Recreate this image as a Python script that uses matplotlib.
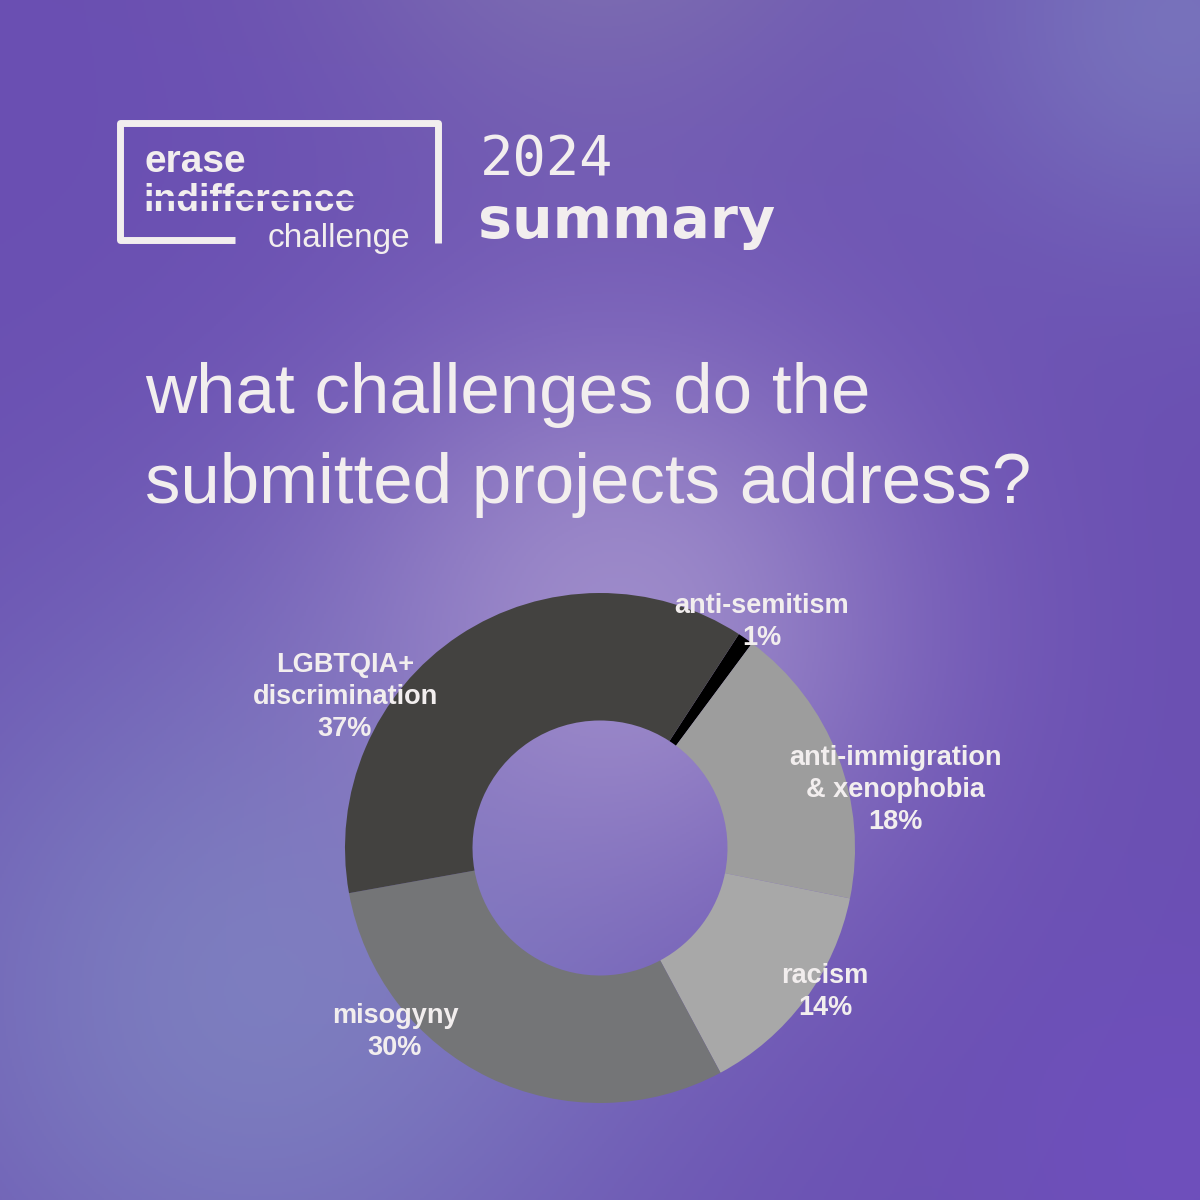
import numpy as np
import matplotlib
matplotlib.use("Agg")
import matplotlib.pyplot as plt

categories = ["anti-semitism", "anti-immigration\n& xenophobia", "racism", "misogyny", "LGBTQIA+\ndiscrimination"]
values = [1, 18, 14, 30, 37]
colors = ["#000000", "#9d9d9d", "#a8a8a8", "#747577", "#434240"]
label_pos = [(762, 622), (895, 790), (825, 992), (395, 1032), (345, 697)]

fig = plt.figure(figsize=(12, 12), dpi=100)
bg = fig.add_axes([0, 0, 1, 1])
bg.set_xlim(0, 1200); bg.set_ylim(1200, 0); bg.axis("off")

yy, xx = np.mgrid[0:1200:2, 0:1200:2]
base = np.array([0x6a, 0x4f, 0xb2]) / 255
light = np.array([0xa2, 0x90, 0xcc]) / 255
blue = np.array([0x80, 0x88, 0xc2]) / 255
top = np.array([0x88, 0x80, 0xb0]) / 255
img = np.ones(xx.shape + (3,)) * base
def blend(img, col, cx, cy, r, s=1.0):
    w = np.exp(-((xx - cx) ** 2 + (yy - cy) ** 2) / (2 * r ** 2))[..., None] * s
    return img * (1 - w) + col * w
img = blend(img, top, 600, -150, 200, 0.7)
img = blend(img, blue, 1180, 20, 160, 0.6)
img = blend(img, blue, 250, 1000, 280, 0.8)
img = blend(img, light, 620, 620, 210, 0.9)
img = blend(img, np.array([0x70, 0x50, 0xc0]) / 255, 1180, 1150, 150, 0.7)
bg.imshow(np.clip(img, 0, 1), extent=[0, 1200, 1200, 0], zorder=0)

fg = "#f2eeee"
lw = 5
bg.plot([235, 120, 120, 438, 438], [240, 240, 123, 123, 243], color=fg, lw=lw, solid_capstyle="butt")
bg.text(145, 162, "erase", color=fg, fontsize=28, fontweight="bold", va="center", ha="left", family="Liberation Sans", zorder=3)
t = bg.text(143, 201, "indifference", color=fg, fontsize=27, fontweight="bold", va="center", ha="left", family="Liberation Sans", zorder=3)
fig.canvas.draw()
bb = t.get_window_extent().transformed(bg.transData.inverted())
bg.plot([bb.x0 - 2, bb.x1 + 2], [198, 198], color="#6a52b0", lw=3.5, zorder=4)
bg.text(410, 238, "challenge", color=fg, fontsize=24, va="center", ha="right", family="Liberation Sans", zorder=3)
bg.text(480, 160, "2024", color=fg, fontsize=40, va="center", ha="left", family="DejaVu Sans Mono", zorder=3)
bg.text(478, 222, "summary", color=fg, fontsize=41, fontweight="bold", va="center", ha="left", family="DejaVu Sans", zorder=3)

bg.text(145, 395, "what challenges do the", color=fg, fontsize=51, va="center", ha="left", family="Liberation Sans")
bg.text(145, 485, "submitted projects address?", color=fg, fontsize=51, va="center", ha="left", family="Liberation Sans")

ax = fig.add_axes([345 / 1200, 1 - 1103 / 1200, 510 / 1200, 510 / 1200])
ax.pie(values, colors=colors, startangle=57, counterclock=False,
       wedgeprops=dict(width=0.5, linewidth=0))
ax.set_xlim(-1, 1); ax.set_ylim(-1, 1); ax.axis("off")

ov = fig.add_axes([0, 0, 1, 1])
ov.set_xlim(0, 1200); ov.set_ylim(1200, 0); ov.axis("off"); ov.patch.set_alpha(0)
for (name, v, (x, y)) in zip(categories, values, label_pos):
    ov.text(x, y, f"{name}\n{v}%", color=fg, fontsize=19.5, fontweight="bold", ha="center",
            va="center", linespacing=1.3, family="Liberation Sans")

fig.savefig("out.png", dpi=100)
